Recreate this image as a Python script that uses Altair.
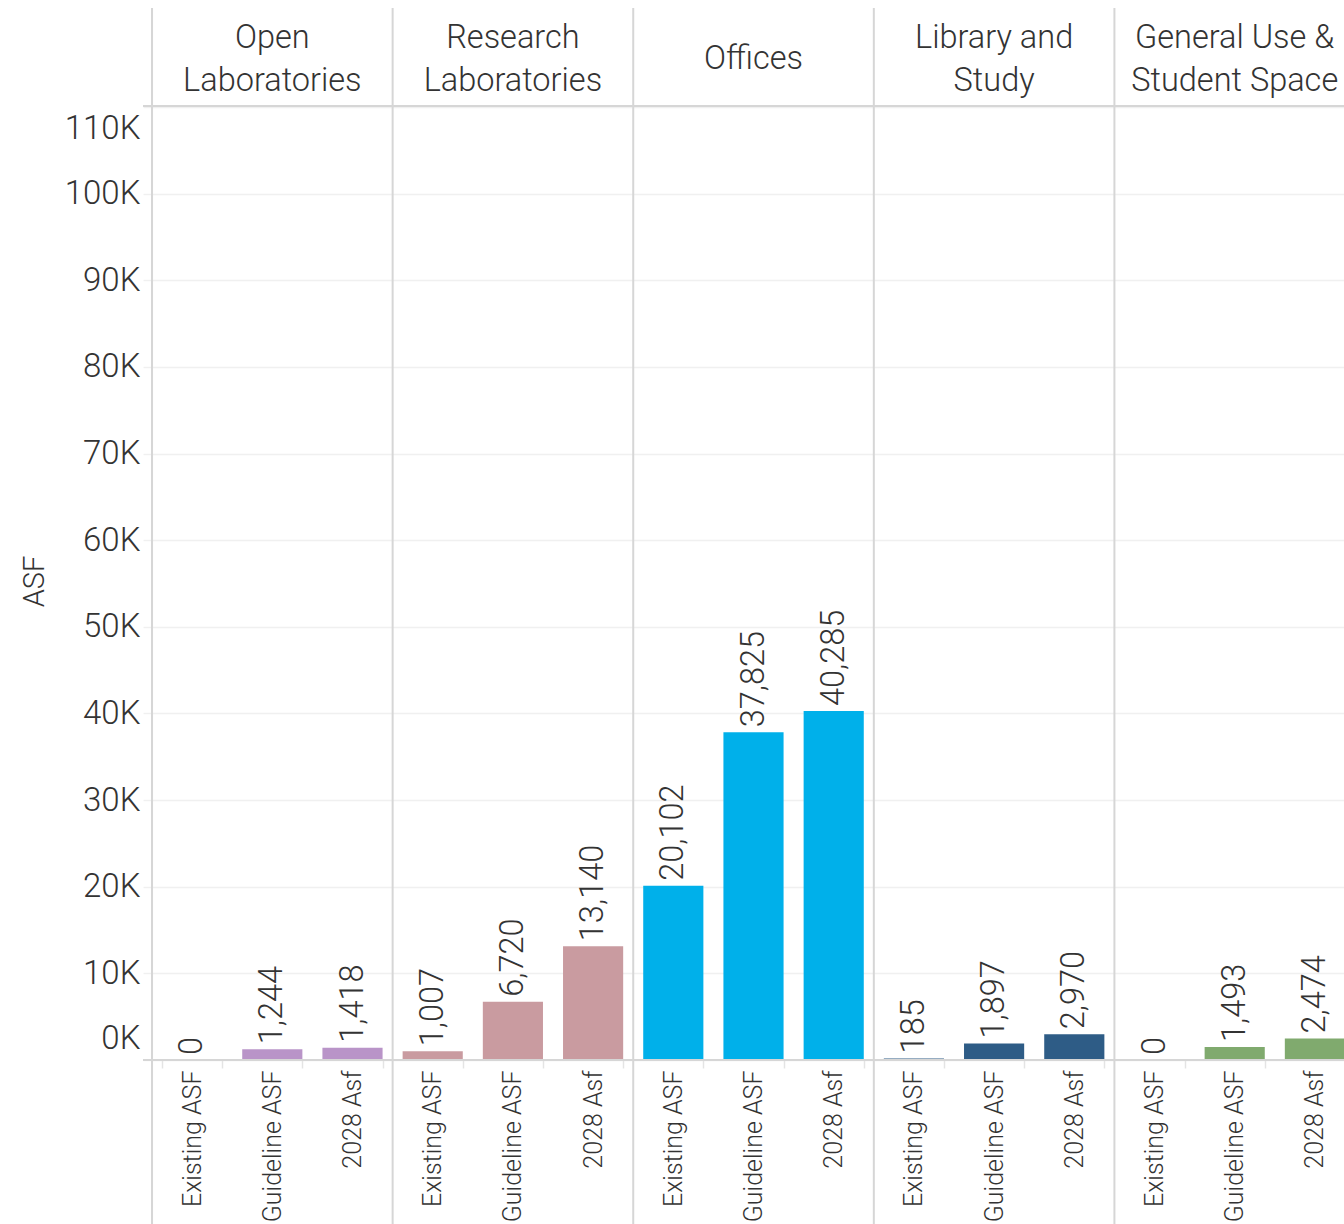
import altair as alt
import pandas as pd

groups = ["Open Laboratories", "Research Laboratories", "Offices",
          "Library and Study", "General Use & Student Space"]
header_lines = ["Open|Laboratories", "Research|Laboratories", "Offices",
                "Library and|Study", "General Use &|Student Space"]
measures = ["Existing ASF", "Guideline ASF", "2028 Asf"]
existing = [0, 1007, 20102, 185, 0]
guideline = [1244, 6720, 37825, 1897, 1493]
asf2028 = [1418, 13140, 40285, 2970, 2474]
colors = ["#b994c8", "#c99ba0", "#00b0ea", "#2e5c86", "#80aa6e"]
y_ticks = [0, 10000, 20000, 30000, 40000, 50000, 60000, 70000, 80000,
           90000, 100000, 110000]

FONT = "Roboto"
TXT = "#333333"

rows = []
for gi, g in enumerate(groups):
    for m, v in zip(measures, [existing[gi], guideline[gi], asf2028[gi]]):
        rows.append({"group": g, "measure": m, "key": f"{g}|{m}", "value": v})
df = pd.DataFrame(rows)
keys = list(df["key"])

hdr = pd.DataFrame({
    "group": groups,
    "label": header_lines,
    "mid": [f"{g}|{measures[1]}" for g in groups],
    "first": [f"{g}|{measures[0]}" for g in groups],
})

PLOT_W = 1192
PLOT_H = 953
xscale = alt.Scale(domain=keys, range=[0, 1203], paddingInner=0.25, paddingOuter=0.125)

bars = alt.Chart(df).mark_bar().encode(
    x=alt.X("key:N", scale=xscale, sort=keys, title=None,
            axis=alt.Axis(labelExpr="split(datum.value, '|')[1]", labelAngle=270,
                          labelAlign="right", labelBaseline="middle",
                          labelPadding=2, labelFontSize=25, labelFont=FONT,
                          labelFontWeight=300, labelColor=TXT,
                          tickBand="extent", ticks=True, tickSize=8,
                          tickColor="#e4e4e4", tickWidth=1.5,
                          domain=False, grid=False)),
    y=alt.Y("value:Q", scale=alt.Scale(domain=[0, 110000], nice=False, zero=True),
            title="ASF",
            axis=alt.Axis(values=y_ticks, labelExpr="datum.value/1000 + 'K'",
                          labelFontSize=33, labelFont=FONT, labelFontWeight=300,
                          labelColor=TXT, labelPadding=3, labelFlush=True,
                          labelFlushOffset=-5,
                          grid=True, gridColor="#f0f0f0", gridWidth=1.5,
                          ticks=True, tickSize=9, tickColor="#f0f0f0", tickWidth=1.5,
                          domain=False,
                          titleFont=FONT, titleFontSize=29, titleFontWeight=300,
                          titleColor=TXT, titleAngle=270, titleX=-118, titleY=474,
                          titleAlign="center", titleBaseline="middle")),
    color=alt.Color("group:N", scale=alt.Scale(domain=groups, range=colors), legend=None),
)

labels = alt.Chart(df).mark_text(angle=270, align="left", baseline="middle", dx=5,
                                 font=FONT, fontSize=32.5, fontWeight=300, color=TXT).encode(
    x=alt.X("key:N", scale=xscale, sort=keys),
    y=alt.Y("value:Q"),
    text=alt.Text("value:Q", format=","),
)

headers = alt.Chart(hdr).transform_calculate(
    lines="split(datum.label, '|')"
).transform_calculate(
    ty="-48 - (length(datum.lines) - 1) * 21.5"
).mark_text(align="center", baseline="middle", font=FONT, fontSize=32.5,
            fontWeight=300, color=TXT, lineHeight=43).encode(
    x=alt.X("mid:N", scale=xscale, sort=keys),
    y=alt.Y("ty:Q", scale=None),
    text="lines:N",
)

seps = alt.Chart(hdr).mark_rule(color="#d6d6d6", strokeWidth=2, xOffset=-10).encode(
    x=alt.X("first:N", scale=xscale, sort=keys, bandPosition=0),
    y=alt.value(-99),
    y2=alt.value(PLOT_H + 164),
)

hlines = alt.Chart(pd.DataFrame({"yy": [-1, PLOT_H]})).mark_rule(
    color="#d6d6d6", strokeWidth=2).encode(
    x=alt.value(-9), x2=alt.value(PLOT_W + 20),
    y=alt.Y("yy:Q", scale=None),
)

chart = alt.layer(bars, labels, headers, seps, hlines).properties(
    width=PLOT_W, height=PLOT_H,
    autosize=alt.AutoSizeParams(type="none"),
    padding={"left": 152, "top": 107, "right": 0, "bottom": 164},
).configure_view(stroke=None).configure(background="white")

chart.save("out.html", embed_options={"renderer": "svg", "actions": False})
